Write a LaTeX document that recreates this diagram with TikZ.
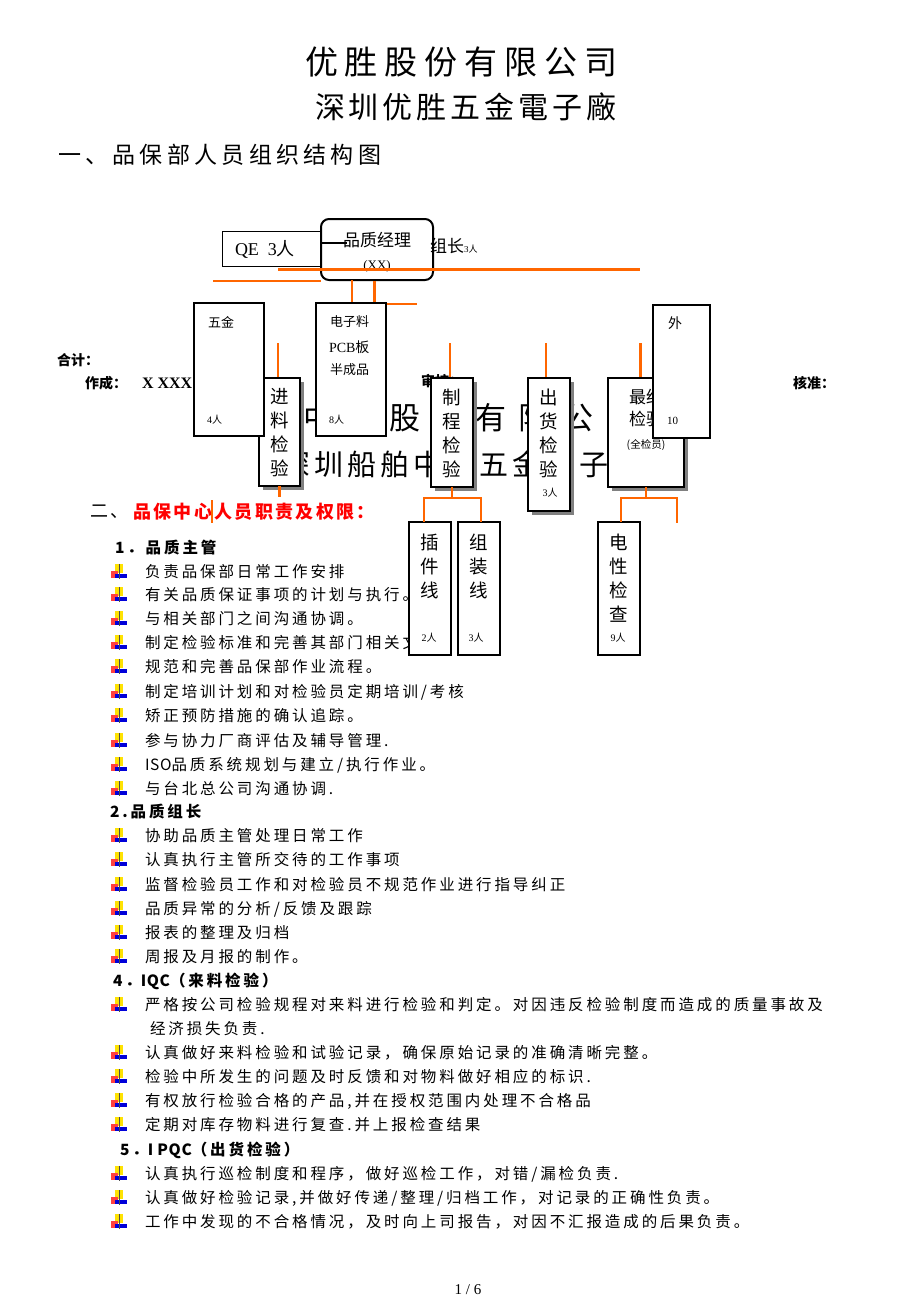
\documentclass[tikz,border=0pt]{standalone}
\usepackage{fontspec}
\setmainfont{Liberation Serif}
\newfontfamily\cj{Noto Sans CJK SC}
\usetikzlibrary{shadows,calc}
\definecolor{org}{HTML}{FF6600}
\newcommand\fsz[1]{\fontsize{#1}{#1}\selectfont}
\newcommand\fszb[2]{\fontsize{#1}{#2}\selectfont}
\newcommand\lsp[1]{\addfontfeature{LetterSpace=#1}}
\newcommand\latn[1]{{\addfontfeature{LetterSpace=4}#1}}
\tikzset{
  ttl/.style={anchor=west, inner sep=0, outer sep=0},
  body/.style={anchor=west, inner sep=0, outer sep=0, font={\cj\fsz{15.5}\lsp{18.7}}},
  head/.style={anchor=west, inner sep=0, outer sep=0, font={\cj\bfseries\fsz{15.5}\lsp{18.7}}},
  bx/.style={draw, fill=white, line width=1.8pt, inner sep=0, outer sep=0, anchor=north west},
  sbx/.style={bx, drop shadow={shadow xshift=3.5pt, shadow yshift=-3.5pt, fill=black!50, opacity=1}},
  vt/.style={align=center, inner sep=0, font={\cj\fszb{18.5}{24}}},
  small/.style={inner sep=0, anchor=west, font=\fsz{10}},
  othn/.style={draw=org, line width=1.3pt},
  omid/.style={draw=org, line width=2.4pt},
  othk/.style={draw=org, line width=3pt},
  bul/.pic={
    \fill[yellow!85!orange] (-4,-8) rectangle (4,1);
    \fill[red!75] (-8,-1) rectangle (-1,6);
    \fill[blue!85!black] (-4,2) rectangle (8,6);
    \draw[black!70, line width=1pt] (0,-8) -- (0,7);
  }
}
\newcommand\bl[3]{\pic at (119,#1) {bul}; \node[body] (#2) at (145,#1) {#3};}
\begin{document}
\begin{tikzpicture}[x=1pt,y=-1pt]
\useasboundingbox (0,0) rectangle (920,1302);
\fill[white] (0,0) rectangle (920,1302);

% titles
\node[ttl, font={\cj\fsz{33}\lsp{21}}] (t1) at (305,62) {优胜股份有限公司};
\node[ttl, font={\cj\fsz{30}\lsp{13.3}}] (t2) at (315,107) {深圳优胜五金電子廠};
\node[ttl, font={\cj\fsz{23}\lsp{18.7}}] (t3) at (58,155) {一、品保部人员组织结构图};

% watermark text behind the chart
\node[ttl, font={\cj\fsz{31}\lsp{39}}] (w1) at (303.5,418) {中森股份有限公司};
\node[ttl, font={\cj\fsz{29}\lsp{14}}] (w2) at (281.5,464) {深圳船舶中森五金電子廠};

% sign-off labels
\node[ttl, font={\cj\bfseries\fsz{14}}] (hj) at (57,360) {合计：};
\node[ttl, font={\cj\bfseries\fsz{14}}] (zcl) at (85,383) {作成：};
\node[ttl, font={\bfseries\fsz{16}}] (xx) at (142,383) {X XXX};
\node[ttl, font={\cj\bfseries\fsz{14}}] (shl) at (421,381) {审核：};
\node[ttl, font={\cj\bfseries\fsz{14}}] (hzl) at (793,383) {核准：};

% section 2
\node[ttl, font={\cj\fsz{18}\lsp{13}}] (s2a) at (90,512) {二、};
\node[ttl, font={\cj\bfseries\fsz{18}\lsp{13}}, text=red] (s2b) at (133,512) {品保中心人员职责及权限：};

\node[head] (h1) at (115,548) {1．品质主管};
\bl{572}{a1}{负责品保部日常工作安排}
\bl{595}{a2}{有关品质保证事项的计划与执行。}
\bl{619}{a3}{与相关部门之间沟通协调。}
\bl{643}{a4}{制定检验标准和完善其部门相关文件}
\bl{667}{a5}{规范和完善品保部作业流程。}
\bl{692}{a6}{制定培训计划和对检验员定期培训/考核}
\bl{716}{a7}{矫正预防措施的确认追踪。}
\bl{741}{a8}{参与协力厂商评估及辅导管理.}
\bl{765}{a9}{\latn{ISO}品质系统规划与建立/执行作业。}
\bl{789}{a10}{与台北总公司沟通协调.}

\node[head] (h2) at (110,812) {2.品质组长};
\bl{836}{b1}{协助品质主管处理日常工作}
\bl{860}{b2}{认真执行主管所交待的工作事项}
\bl{885}{b3}{监督检验员工作和对检验员不规范作业进行指导纠正}
\bl{909}{b4}{品质异常的分析/反馈及跟踪}
\bl{933}{b5}{报表的整理及归档}
\bl{957}{b6}{周报及月报的制作。}

\node[head] (h4) at (113,981) {4．\latn{IQC}（来料检验）};
\bl{1005}{c1}{严格按公司检验规程对来料进行检验和判定。对因违反检验制度而造成的质量事故及}
\node[body] (c1b) at (150,1029) {经济损失负责.};
\bl{1053}{c2}{认真做好来料检验和试验记录，确保原始记录的准确清晰完整。}
\bl{1077}{c3}{检验中所发生的问题及时反馈和对物料做好相应的标识.}
\bl{1101}{c4}{有权放行检验合格的产品,并在授权范围内处理不合格品}
\bl{1125}{c5}{定期对库存物料进行复查.并上报检查结果}

\node[head] (h5) at (120,1150) {5．\latn{I PQC}（出货检验）};
\bl{1174}{d1}{认真执行巡检制度和程序，做好巡检工作，对错/漏检负责.}
\bl{1198}{d2}{认真做好检验记录,并做好传递/整理/归档工作，对记录的正确性负责。}
\bl{1222}{d3}{工作中发现的不合格情况，及时向上司报告，对因不汇报造成的后果负责。}

\node[font=\fsz{15}, inner sep=0] (pg) at (468,1290) {1 / 6};

% manager and QE
\node[bx, line width=1pt, minimum width=98pt, minimum height=35pt] (qe) at (222,231) {};
\node[bx, rounded corners=8pt, line width=2pt, minimum width=112pt, minimum height=61pt] (mgr) at (321,219) {};
\node[ttl, font=\fsz{18}] (qet) at (235,249) {QE\ \ 3{\cj 人}};
\node[inner sep=0, font={\cj\fsz{17}}] (mgt) at (377,240) {品质经理};
\node[inner sep=0, font=\fsz{13}] (mgx) at (377,266) {(XX)};
\node[ttl] (zzl) at (430,246) {{\cj\fsz{17}组长}{\fsz{9}3{\cj 人}}};
\coordinate (ql) at (320,243);
\draw[black, line width=1.2pt] (ql) -- ++(27,0);

% orange lines from the manager
\coordinate (o1) at (278,269);
\coordinate (o2) at (640,269);
\draw[othk] (o1) -- (o2);
\coordinate (o3) at (213,281);
\draw[othn] (o3) -- (o3 -| mgr.west);
\coordinate (v1) at (352,280);
\coordinate (v2) at (374,281);
\draw[omid] (v1) -- (352,303);
\draw[othk] (v2) -- (374,303);
\coordinate (o4) at (386,304);
\draw[othn] (o4) -- ++(31,0);
\coordinate (u1) at (278,343);
\coordinate (u2) at (450,343);
\coordinate (u3) at (546,343);
\coordinate (u4) at (640,343);
\draw[othn] (u1) -- (278,378);
\draw[othn] (u2) -- (450,378);
\draw[othn] (u3) -- (546,378);
\draw[othk] (u4) -- (640,378);

% level 3 and level 2 boxes
\node[sbx, minimum width=41pt, minimum height=108pt] (jl) at (259,378) {};
\node[bx, minimum width=70pt, minimum height=133pt] (wj) at (194,303) {};
\node[bx, minimum width=70pt, minimum height=133pt] (dz) at (316,303) {};
\node[sbx, minimum width=42pt, minimum height=109pt] (zc) at (431,378) {};
\node[sbx, minimum width=42pt, minimum height=133pt] (ch) at (528,378) {};
\node[sbx, minimum width=76pt, minimum height=109pt] (zz) at (608,378) {};
\node[inner sep=0, font={\cj\fszb{17}{22}}, align=center] (zzt) at (646,408) {最终\\检验};
\node[inner sep=0, font={\cj\fsz{10.5}}] (zzq) at (646,445) {(全检员)};
\node[bx, minimum width=57pt, minimum height=133pt] (wai) at (653,305) {};
\node[bx, minimum width=42pt, minimum height=133pt] (cj) at (409,522) {};
\node[bx, minimum width=42pt, minimum height=133pt] (zx) at (458,522) {};
\node[bx, minimum width=42pt, minimum height=133pt] (dx) at (598,522) {};

% texts in boxes
\node[ttl, font={\cj\fsz{13}}] (wjt) at (208,322) {五金};
\node[small] (wjn) at (207,420) {4{\cj 人}};
\node[ttl, font={\cj\fsz{13}}] (dz1) at (330,322) {电子料};
\node[ttl, font=\fsz{14}] (dz2) at (329,347) {PCB{\cj 板}};
\node[ttl, font={\cj\fsz{13}}] (dz3) at (330,370) {半成品};
\node[small] (dzn) at (329,420) {8{\cj 人}};
\node[inner sep=0, font={\cj\fsz{14}}] (wat) at (675,323) {外};
\node[small, font=\fsz{11}] (wan) at (667,421) {10};
\node[vt] (jlt) at (279.5,433) {进\\料\\检\\验};
\node[vt] (zct) at (452,433) {制\\程\\检\\验};
\node[vt] (cht) at (549,433) {出\\货\\检\\验};
\node[small, anchor=center] (chn) at (550,493) {3{\cj 人}};
\node[vt] (cjt) at (430,566) {插\\件\\线};
\node[small, anchor=center] (cjn) at (429,638) {2{\cj 人}};
\node[vt] (zxt) at (479,566) {组\\装\\线};
\node[small, anchor=center] (zxn) at (476,638) {3{\cj 人}};
\node[vt] (dxt) at (619,578) {电\\性\\检\\查};
\node[small, anchor=center] (dxn) at (618,638) {9{\cj 人}};

% lower connectors
\draw[omid] (jl.south) -- ++(0,11);
\coordinate (s1) at (212,500);
\draw[othn] (s1) -- ++(0,23);
\draw[omid] (zc.south) -- ++(0,11) coordinate (zcb);
\coordinate (cja) at ($(cj.north west)!0.36!(cj.north east)$);
\coordinate (zxa) at ($(zx.north west)!0.55!(zx.north east)$);
\draw[omid] (cja) |- (zcb) -| (zxa);
\draw[omid] (zz.south) -- ++(0,11) coordinate (zzb);
\coordinate (dxa) at ($(dx.north west)!0.55!(dx.north east)$);
\coordinate (zzr) at (677,523);
\draw[omid] (dxa) |- (zzb) -| (zzr);
\end{tikzpicture}
\end{document}
